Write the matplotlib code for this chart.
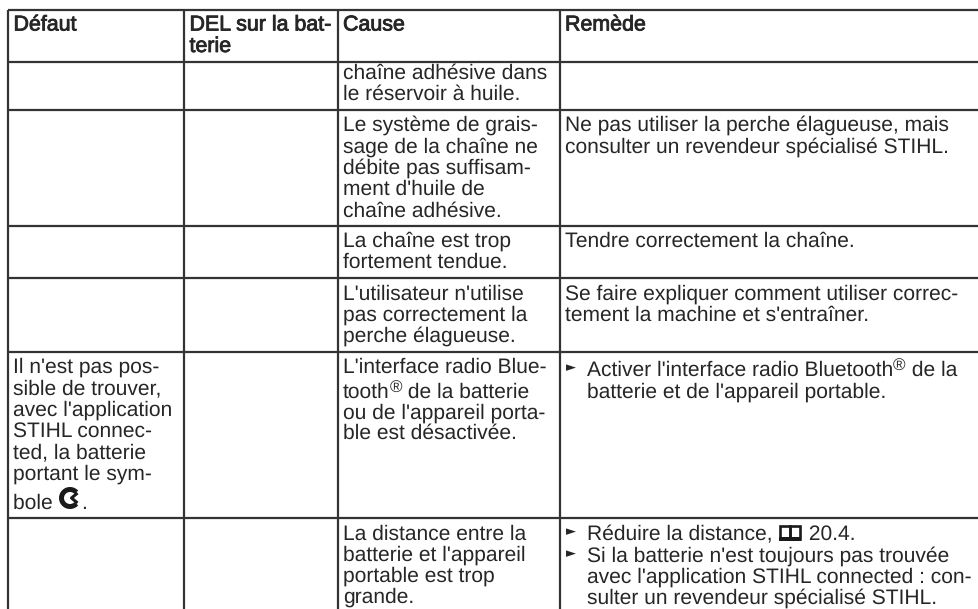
import matplotlib
matplotlib.use('Agg')
import matplotlib.pyplot as plt
import matplotlib.patheffects as pe
from matplotlib.patches import Wedge, Rectangle

plt.rcParams['font.family'] = ['Liberation Sans', 'DejaVu Sans']
plt.rcParams['text.hinting'] = 'none'
plt.rcParams['text.hinting_factor'] = 1

# table grid, in pixels of the page
col_edges = [8, 184.5, 338, 560]
row_edges = [9.5, 61.5, 110, 226, 278, 352, 518]

header_text = ['Défaut', 'DEL sur la bat-', 'Cause', 'Remède']
header_extra = 'terie'

col_1 = [('Il n\'est pas pos-', 373), ('sible de trouver,', 394), ('avec l\'application', 416),
         ('STIHL connec-', 437), ('ted, la batterie', 458), ('portant le sym-', 480),
         ('bole {C}.', 509)]

col_3 = [('chaîne adhésive dans', 79), ('le réservoir à huile.', 100),
         ('Le système de grais-', 131), ('sage de la chaîne ne', 152.5), ('débite pas suffisam-', 174),
         ('ment d\'huile de', 195), ('chaîne adhésive.', 216.5),
         ('La chaîne est trop', 246.5), ('fortement tendue.', 268),
         ('L\'utilisateur n\'utilise', 300), ('pas correctement la', 321), ('perche élagueuse.', 342),
         ('L\'interface radio Blue-', 373), ('tooth® de la batterie', 398), ('ou de l\'appareil porta-', 418.5),
         ('ble est désactivée.', 439),
         ('La distance entre la', 540), ('batterie et l\'appareil', 561), ('portable est trop', 582),
         ('grande.', 603)]

col_4 = [('Ne pas utiliser la perche élagueuse, mais', 131), ('consulter un revendeur spécialisé STIHL.', 152.5),
         ('Tendre correctement la chaîne.', 246.5),
         ('Se faire expliquer comment utiliser correc-', 300), ('tement la machine et s\'entraîner.', 321)]

col_4_bullets = [('Activer l\'interface radio Bluetooth® de la', 376, True),
                 ('batterie et de l\'appareil portable.', 398, False),
                 ('Réduire la distance, {B} 20.4.', 540, True),
                 ('Si la batterie n\'est toujours pas trouvée', 562, True),
                 ('avec l\'application STIHL connected : con-', 583, False),
                 ('sulter un revendeur spécialisé STIHL.', 604, False)]

ink = '#262626'
line_col = '#333333'
fs = 15.4

fig = plt.figure(figsize=(9.79, 6.09), dpi=100)
ax = fig.add_axes([0, 0, 1, 1])
ax.set_xlim(0, 979)
ax.set_ylim(609, 0)
ax.axis('off')

ax.hlines(row_edges, col_edges[0], 979, color=line_col, lw=1.6)
ax.vlines(col_edges, row_edges[0], 609, color=line_col, lw=1.6)

rend = fig.canvas.get_renderer()


def width_of(s, size=fs):
    # pad with x so that spaces at the ends are counted
    a = ax.text(0, 0, 'x' + s + 'x', fontsize=size)
    b = ax.text(0, 0, 'xx', fontsize=size)
    w = a.get_window_extent(rend).width - b.get_window_extent(rend).width
    a.remove()
    b.remove()
    return w


def conn_symbol(x, y):
    # round C with a chevron, the connected sign
    ax.add_patch(Wedge((x + 11, y - 11), 11, 42, 318, width=5, color='#1a1a1a', lw=0))
    ax.plot([x + 18.5, x + 12.5, x + 18.5], [y - 16, y - 11, y - 6], color='#1a1a1a', lw=2.2, solid_capstyle='butt')


def book_symbol(x, y):
    ax.add_patch(Rectangle((x + 2, y - 14), 10, 13, fill=False, ec='#1a1a1a', lw=1.9))
    ax.add_patch(Rectangle((x + 12, y - 14), 10, 13, fill=False, ec='#1a1a1a', lw=1.9))
    ax.add_patch(Rectangle((x + 1, y - 3), 22, 3.5, color='#1a1a1a', lw=0))


def put_line(x, y, s):
    # walks along the line, switching for the superscript and the two icons
    s = s.replace('®', '|®|').replace('{C}', '|{C}|').replace('{B}', '|{B}|')
    for part in s.split('|'):
        if part == '®':
            ax.text(x, y - 5, part, fontsize=12.5, color=ink, va='baseline')
            x += width_of(part, 12.5)
        elif part == '{C}':
            conn_symbol(x, y)
            x += 22
        elif part == '{B}':
            book_symbol(x, y)
            x += 25
        elif part:
            ax.text(x, y, part, fontsize=fs, color=ink, va='baseline')
            x += width_of(part)


# header is the regular face with a thin stroke, as in the page
text_x = [13.5, 189.5, 343, 565]
for x, s in zip(text_x, header_text):
    ax.text(x, 30.5, s, fontsize=fs, color=ink, va='baseline',
            path_effects=[pe.withStroke(linewidth=0.6, foreground=ink)])
ax.text(text_x[1], 52, header_extra, fontsize=fs, color=ink, va='baseline',
        path_effects=[pe.withStroke(linewidth=0.6, foreground=ink)])

for s, y in col_1:
    put_line(text_x[0], y, s)
for s, y in col_3:
    put_line(text_x[2], y, s)
for s, y in col_4:
    put_line(text_x[3], y, s)
for s, y, bullet in col_4_bullets:
    put_line(587, y, s)
    if bullet:
        ax.text(565.5, y - 5, '►', fontsize=9, color=ink, va='baseline', family=['DejaVu Sans'])

fig.savefig('out.png', dpi=100, facecolor='white')
